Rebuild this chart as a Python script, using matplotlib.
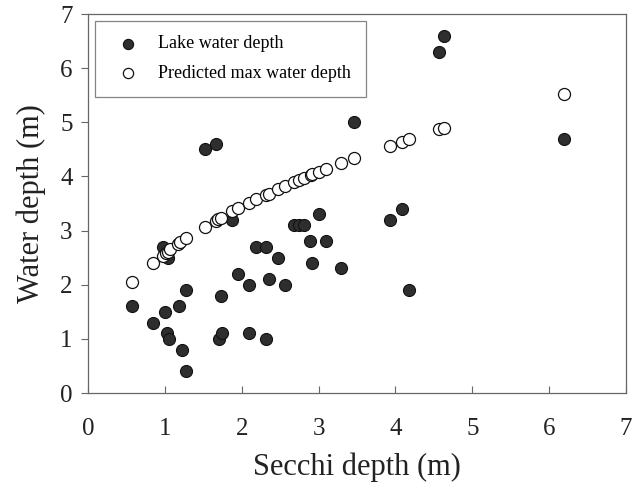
import matplotlib.pyplot as plt

# lake water depth (filled)
secchi_lake = [0.57, 0.85, 0.98, 1.0, 1.03, 1.04, 1.06, 1.18, 1.22, 1.28, 1.28,
               1.52, 1.67, 1.70, 1.73, 1.74, 1.88, 1.95, 2.10, 2.10, 2.19, 2.32,
               2.32, 2.35, 2.47, 2.56, 2.68, 2.74, 2.81, 2.89, 2.92, 3.01, 3.10,
               3.29, 3.46, 3.93, 4.09, 4.18, 4.57, 4.63, 6.19]
lake_depth = [1.6, 1.3, 2.7, 1.5, 1.1, 2.5, 1.0, 1.6, 0.8, 1.9, 0.4,
              4.5, 4.6, 1.0, 1.8, 1.1, 3.2, 2.2, 2.0, 1.1, 2.7, 2.7,
              1.0, 2.1, 2.5, 2.0, 3.1, 3.1, 3.1, 2.8, 2.4, 3.3, 2.8,
              2.3, 5.0, 3.2, 3.4, 1.9, 6.3, 6.6, 4.7]

# predicted max water depth (open)
secchi_pred = [0.57, 0.85, 0.98, 1.01, 1.04, 1.07, 1.17, 1.20, 1.27, 1.52,
               1.66, 1.69, 1.73, 1.88, 1.95, 2.09, 2.19, 2.32, 2.35, 2.47,
               2.56, 2.68, 2.74, 2.81, 2.90, 2.92, 3.01, 3.10, 3.29, 3.46,
               3.93, 4.08, 4.18, 4.57, 4.63, 6.19]
pred_depth = [2.05, 2.41, 2.53, 2.58, 2.61, 2.66, 2.75, 2.79, 2.86, 3.07,
              3.18, 3.21, 3.24, 3.36, 3.41, 3.51, 3.58, 3.66, 3.68, 3.76,
              3.83, 3.90, 3.94, 3.97, 4.02, 4.04, 4.09, 4.13, 4.25, 4.34,
              4.57, 4.64, 4.69, 4.88, 4.90, 5.53]

plt.rcParams['font.family'] = ['Liberation Serif', 'DejaVu Serif']

fig = plt.figure(figsize=(6.38, 4.9), dpi=100)
# axes box: x 88..626 px, y 14..393 px
ax = fig.add_axes([88 / 638, 1 - 393 / 490, 538 / 638, 379 / 490])

ax.scatter(secchi_lake, lake_depth, s=75, c='#2e2e2e', edgecolors='#111111',
           linewidths=0.8, label='Lake water depth', zorder=3)
ax.scatter(secchi_pred, pred_depth, s=75, c='white', edgecolors='#111111',
           linewidths=0.9, label='Predicted max water depth', zorder=3)

ax.set_xlim(0, 7)
ax.set_ylim(0, 7)
ax.set_xticks(range(8))
ax.set_yticks(range(8))
ax.tick_params(axis='x', direction='in', length=5, labelsize=18, pad=18,
               colors='#666666', labelcolor='#222222')
ax.tick_params(axis='y', direction='out', length=5, labelsize=18, pad=6,
               colors='#666666', labelcolor='#222222')
for sp in ax.spines.values():
    sp.set_color('#666666')
    sp.set_linewidth(0.9)

ax.set_xlabel('Secchi depth (m)', fontsize=22, labelpad=9, color='#222222')
ax.set_ylabel('Water depth (m)', fontsize=22, labelpad=10, color='#222222')

leg = ax.legend(loc='upper left', fontsize=13, frameon=True, fancybox=False,
                edgecolor='#666666', borderpad=0.8, handletextpad=0.7,
                labelspacing=0.7, markerscale=0.85, borderaxespad=0,
                bbox_to_anchor=(7 / 538, 1 - 7 / 379))
leg.get_frame().set_linewidth(0.9)

plt.savefig('out.png', dpi=100)
